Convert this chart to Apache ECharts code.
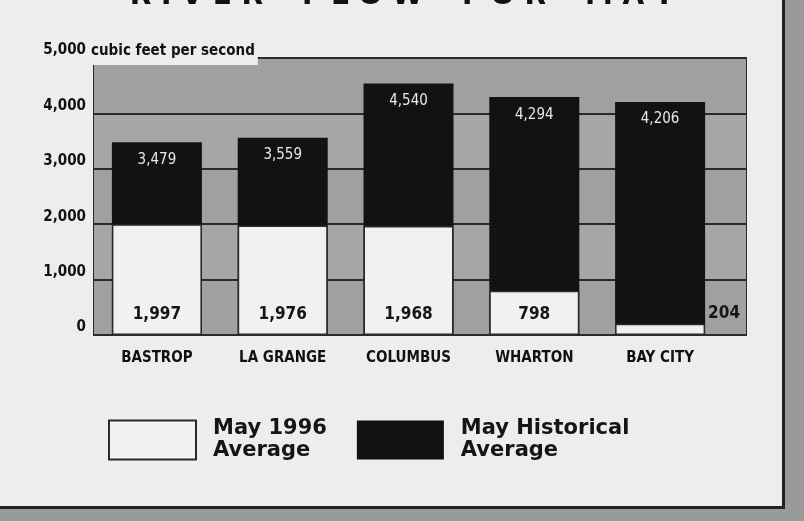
<!DOCTYPE html>
<html>
<head>
<meta charset="utf-8">
<script src="https://cdn.jsdelivr.net/npm/echarts@6/dist/echarts.min.js"></script>
<style>
  html, body { margin: 0; padding: 0; background: #9a9a9a; }
  #frame { position: absolute; left: 0; top: 0; width: 782px; height: 506px; background: #ededeb; border-right: 3px solid #222; border-bottom: 3px solid #222; }
  #chart { width: 804px; height: 521px; position: absolute; left: 0; top: 0; }
</style>
</head>
<body>
<div id="frame"></div>
<div id="chart"></div>
<script>
// river flow, cubic feet per second
const cities = ['BASTROP', 'LA GRANGE', 'COLUMBUS', 'WHARTON', 'BAY CITY'];
const may1996 = [1997, 1976, 1968, 798, 204];
const historical = [3479, 3559, 4540, 4294, 4206];
const yTicks = [0, 1000, 2000, 3000, 4000, 5000];

const chart = echarts.init(document.getElementById('chart'));

const condensed = '"DejaVu Sans Condensed", "Liberation Sans Narrow", sans-serif';
const legendFont = '"DejaVu Sans", Lato, sans-serif';
const fmt = p => p.value.toLocaleString('en-US');

const whiteData = may1996.map((v, i) => {
  if (i === may1996.length - 1) {
    // tiny bar, label sits outside to the right
    return { value: v, label: { position: [93, -19] } };
  }
  return v;
});

chart.setOption({
  backgroundColor: 'transparent',
  animation: false,
  graphic: [
    {
      type: 'text', left: 'center', top: -17,
      style: {
        text: 'R I V E R    F L O W    F O R    M A Y',
        font: '900 28px "DejaVu Sans", sans-serif', fill: '#111'
      }
    },
    {
      type: 'text', left: 89, top: 42, z: 100,
      style: {
        text: 'cubic feet per second',
        font: 'bold 15px ' + condensed, fill: '#111',
        backgroundColor: '#ededeb', padding: [2, 3, 6, 2]
      }
    }
  ],
  // grid 0 is the shaded panel, grid 1 holds the bars
  grid: [
    {
      left: 94, right: 58, top: 58, bottom: 186,
      show: true, backgroundColor: '#a2a2a2', borderColor: '#2a2a2a', borderWidth: 2
    },
    { left: 94, right: 81, top: 58, bottom: 186 }
  ],
  legend: {
    left: 108, top: 418,
    padding: 0,
    icon: 'rect',
    itemWidth: 87, itemHeight: 39, itemGap: 30,
    data: ['May 1996', 'May Historical'],
    formatter: n => n + '\nAverage',
    textStyle: {
      fontFamily: legendFont, fontWeight: 'bold', fontSize: 21, lineHeight: 22,
      color: '#151515', padding: [0, 0, 0, 12]
    }
  },
  xAxis: [
    { gridIndex: 0, type: 'category', data: cities, show: false },
    {
      gridIndex: 1,
      type: 'category',
      data: cities,
      axisLine: { show: false },
      axisTick: { show: false },
      axisLabel: {
        margin: 16, color: '#111', fontFamily: condensed,
        fontWeight: 'bold', fontSize: 15
      }
    }
  ],
  yAxis: [
    {
      gridIndex: 0,
      type: 'value',
      min: 0, max: 5000, interval: 1000,
      axisLine: { show: false },
      axisTick: { show: false },
      splitLine: { lineStyle: { color: '#2a2a2a', width: 2 } },
      splitArea: { show: true, areaStyle: { color: ['#a0a0a0', '#a6a6a6'] } },
      axisLabel: {
        margin: 8, color: '#111', fontFamily: condensed, fontWeight: 'bold',
        fontSize: 15, verticalAlign: 'bottom',
        formatter: v => yTicks.includes(v) ? v.toLocaleString('en-US') : ''
      }
    },
    { gridIndex: 1, type: 'value', min: 0, max: 5000, interval: 1000, show: false, splitLine: { show: false } }
  ],
  series: [
    {
      name: 'May Historical',
      type: 'bar',
      xAxisIndex: 1, yAxisIndex: 1,
      data: historical,
      barWidth: 90,
      itemStyle: { color: '#121212' },
      label: {
        show: true, position: 'insideTop', distance: 10,
        color: '#e8e8e8', fontFamily: condensed, fontSize: 15,
        formatter: fmt
      }
    },
    {
      name: 'May 1996',
      type: 'bar',
      xAxisIndex: 1, yAxisIndex: 1,
      data: whiteData,
      barWidth: 90,
      barGap: '-100%',
      itemStyle: { color: '#f1f1ef', borderColor: '#2a2a2a', borderWidth: 1.5 },
      label: {
        show: true, position: 'insideBottom', distance: 12,
        color: '#151515', fontFamily: condensed, fontWeight: 'bold', fontSize: 17,
        formatter: fmt
      }
    }
  ]
});
</script>
</body>
</html>
